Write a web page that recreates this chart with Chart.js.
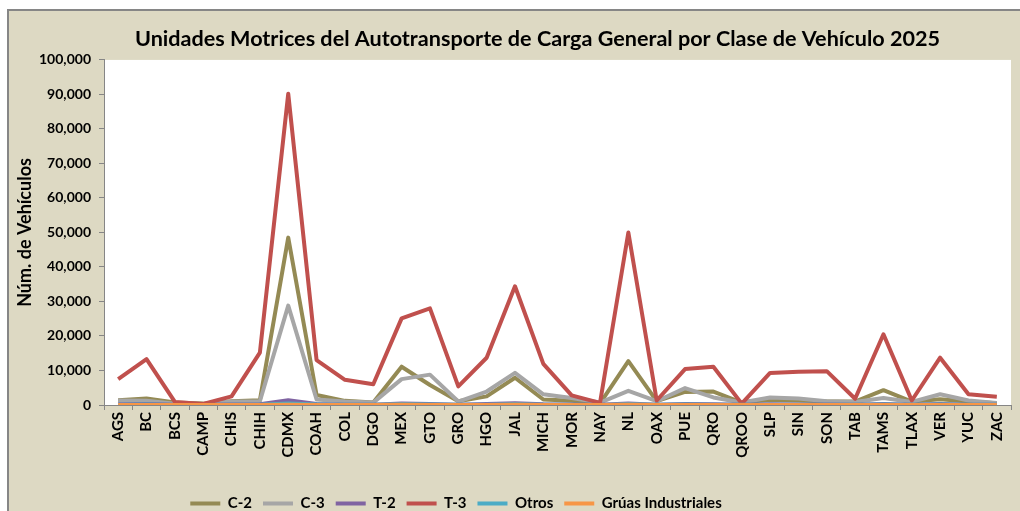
<!DOCTYPE html>
<html><head><meta charset="utf-8">
<script src="https://cdn.jsdelivr.net/npm/chart.js@4.4.1/dist/chart.umd.min.js"></script>
<style>html,body{margin:0;padding:0;background:#fff;overflow:hidden}#wrap{width:1020px;height:511px;position:relative}</style>
</head><body><div id="wrap"><canvas id="c" width="1020" height="511"></canvas></div>
<script>
const categories = ['AGS','BC','BCS','CAMP','CHIS','CHIH','CDMX','COAH','COL','DGO','MEX','GTO','GRO','HGO','JAL','MICH','MOR','NAY','NL','OAX','PUE','QRO','QROO','SLP','SIN','SON','TAB','TAMS','TLAX','VER','YUC','ZAC'];
const seriesNames = ['C-2','C-3','T-2','T-3','Otros','Grúas Industriales'];
const c2 = [1400,1900,700,400,1100,1400,48500,2900,1200,700,11100,5800,1100,2500,7900,1600,1200,500,12700,1100,3800,3900,700,1500,1300,1000,1000,4300,1000,1700,1000,500];
const c3 = [1300,1200,400,300,1000,1100,28800,1600,1000,700,7500,8800,1000,3900,9300,3100,2000,700,4100,1100,4900,2200,700,2200,1900,1100,900,2000,900,3100,1300,600];
const t2 = [200,300,50,50,150,200,1400,300,100,100,400,300,100,300,500,200,150,50,400,100,300,250,100,200,150,150,100,300,100,300,100,100];
const t3 = [7500,13300,900,300,2500,15200,90200,13000,7300,6000,25100,28000,5400,13700,34400,11900,2800,600,50000,1300,10400,11100,400,9300,9600,9800,1800,20500,1300,13700,3100,2400];
const otros = [100,150,30,30,60,100,400,150,50,50,200,150,50,100,200,100,50,30,200,50,150,100,50,100,100,100,50,150,50,150,50,50];
const gruas = [20,30,5,5,10,20,100,30,10,10,50,30,10,20,50,20,10,5,60,10,30,20,10,20,20,20,10,30,10,30,10,10];
const yTicks = {min: 0, max: 100000, step: 10000};

const colors = ['#948A54','#A6A6A6','#8064A2','#C0504D','#4BACC6','#F79646'];
const values = [c2, c3, t2, t3, otros, gruas];
const FONT = 'Lato';

const bgPlugin = {
  id: 'bg',
  beforeDraw(chart) {
    const ctx = chart.ctx, W = chart.width, H = chart.height;
    ctx.save();
    ctx.fillStyle = '#ffffff'; ctx.fillRect(0, 0, W, H);
    ctx.fillStyle = '#DDD9C3'; ctx.fillRect(8, 9, W - 8, H - 9);
    ctx.strokeStyle = '#868686'; ctx.lineWidth = 2;
    ctx.beginPath(); ctx.moveTo(8, H); ctx.lineTo(8, 10); ctx.lineTo(W, 10); ctx.stroke();
    const a = chart.chartArea;
    ctx.fillStyle = '#ffffff'; ctx.fillRect(a.left, a.top, a.right - a.left, a.bottom - a.top);
    ctx.restore();
  }
};
const shiftPlugin = {
  id: 'shift',
  afterLayout(chart) {
    const t = chart.titleBlock;
    if (t) { t.left += 28; t.right += 28; }
    const l = chart.legend;
    if (l) {
      const dx = 456 - (l.left + l.right) / 2;
      l.left += dx; l.right += dx; l.top += 10; l.bottom += 10;
    }
  }
};

new Chart(document.getElementById('c'), {
  type: 'line',
  data: {
    labels: categories,
    datasets: seriesNames.map((n, i) => ({
      label: n, data: values[i], borderColor: colors[i], backgroundColor: colors[i],
      borderWidth: 4, borderJoinStyle: 'round', pointRadius: 0, pointHoverRadius: 0, tension: 0, fill: false,
      order: seriesNames.length - i
    }))
  },
  options: {
    responsive: false, animation: false, devicePixelRatio: 1,
    layout: {padding: {left: 8, right: 9, top: 10, bottom: 0}},
    plugins: {
      title: {display: true, text: 'Unidades Motrices del Autotransporte de Carga General por Clase de Vehículo 2025',
        color: '#000', font: {family: FONT, weight: 'bold', size: 21.6}, padding: {top: 16, bottom: 8}},
      legend: {position: 'bottom', labels: {boxWidth: 30, boxHeight: 4, color: '#000', padding: 11,
        font: {family: FONT, weight: 'bold', size: 15},
        generateLabels(chart) {
          const items = Chart.defaults.plugins.legend.labels.generateLabels(chart);
          items.forEach(it => { it.fillStyle = it.strokeStyle; it.lineWidth = 0; });
          return items.sort((a, b) => a.datasetIndex - b.datasetIndex);
        }}},
      tooltip: {enabled: false}
    },
    scales: {
      x: {
        offset: true,
        grid: {offset: true, drawOnChartArea: false, drawTicks: true, tickLength: 5, color: '#868686'},
        border: {color: '#868686', width: 1},
        ticks: {autoSkip: false, minRotation: 90, maxRotation: 90, padding: 2, color: '#000',
          font: {family: FONT, weight: 'bold', size: 15}},
        afterFit(s) { s.height = s.chart.height - 405 - s.chart.legend.height; }
      },
      y: {
        min: yTicks.min, max: yTicks.max,
        ticks: {stepSize: yTicks.step, padding: 8, color: '#000', font: {family: FONT, weight: 'bold', size: 14},
          callback: v => v.toLocaleString('en-US')},
        grid: {drawOnChartArea: false, tickLength: 5, color: '#868686'},
        border: {color: '#868686', width: 1},
        title: {display: true, text: 'Núm. de Vehículos', color: '#000', font: {family: FONT, weight: 'bold', size: 18}, padding: {top: 6, bottom: 0}},
        afterFit(s) { s.width = 96; }
      }
    }
  },
  plugins: [bgPlugin, shiftPlugin]
});
</script></body></html>
